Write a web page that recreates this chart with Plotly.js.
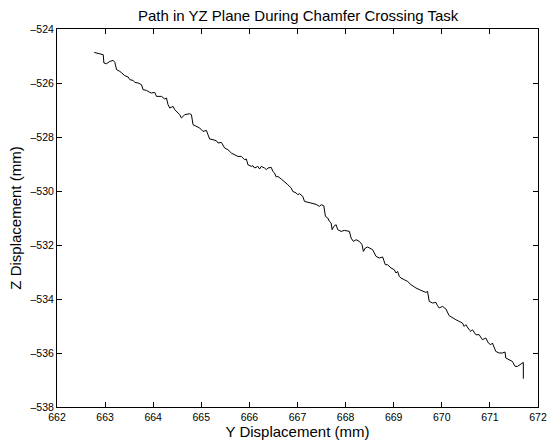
<!DOCTYPE html>
<html>
<head>
<meta charset="utf-8">
<script src="https://cdn.plot.ly/plotly-3.0.1.min.js"></script>
<style>html,body{margin:0;padding:0;background:#fff;}#chart{width:547px;height:441px;}</style>
</head>
<body>
<div id="chart"></div>
<script>
// Y displacement (mm)
var yDisp = [
662.774,662.892,662.961,662.975,663.031,663.100,663.168,663.203,663.239,663.307,
663.342,663.411,663.479,663.515,663.583,663.618,663.687,663.757,663.790,663.861,
663.929,663.965,664.033,664.068,664.172,664.241,664.276,664.309,664.344,664.413,
664.448,664.552,664.587,664.656,664.759,664.795,664.828,664.898,664.967,665.035,
665.106,665.139,665.174,665.243,665.313,665.347,665.417,665.485,665.554,665.624,
665.693,665.761,665.832,665.900,665.936,665.969,666.039,666.073,666.108,666.176,
666.212,666.247,666.315,666.351,666.384,666.454,666.488,666.523,666.558,666.591,
666.662,666.730,666.799,666.869,666.902,666.973,667.006,667.041,667.110,667.145,
667.249,667.318,667.388,667.456,667.492,667.546,667.581,667.629,667.664,667.699,
667.720,667.753,667.803,667.836,667.907,667.975,668.079,668.114,668.162,668.218,
668.286,668.342,668.369,668.411,668.459,668.562,668.633,668.701,668.770,668.826,
668.873,668.944,669.012,669.048,669.081,669.116,669.151,669.220,669.288,669.359,
669.463,669.566,669.670,669.703,669.739,669.807,669.878,669.911,669.946,670.015,
670.085,670.154,670.222,670.293,670.361,670.429,670.465,670.500,670.568,670.604,
670.637,670.707,670.776,670.811,670.844,670.915,670.969,671.019,671.052,671.122,
671.191,671.260,671.315,671.330,671.398,671.467,671.523,671.571,671.627,671.695,
671.695
];
// Z displacement (mm)
var zDisp = [
-524.867,-524.915,-524.952,-525.259,-525.285,-525.200,-525.163,-525.237,-525.507,-525.570,
-525.630,-525.730,-525.778,-525.878,-525.904,-525.978,-526.000,-526.063,-526.248,-526.274,
-526.348,-526.370,-526.348,-526.496,-526.496,-526.593,-526.556,-526.804,-526.926,-526.867,
-526.989,-527.174,-527.296,-527.174,-527.137,-527.174,-527.544,-527.607,-527.667,-527.793,
-527.756,-527.915,-528.074,-528.100,-528.137,-528.222,-528.200,-528.407,-528.470,-528.593,
-528.656,-528.719,-528.719,-528.841,-528.815,-529.026,-529.089,-529.063,-529.148,-529.089,
-529.185,-529.089,-529.148,-529.211,-529.148,-529.126,-529.274,-529.333,-529.481,-529.459,
-529.556,-529.644,-529.767,-529.889,-530.015,-530.074,-530.137,-530.100,-530.200,-530.385,
-530.444,-530.481,-530.496,-530.570,-530.507,-530.544,-530.941,-531.000,-531.126,-531.185,
-531.433,-531.311,-531.248,-531.433,-531.496,-531.459,-531.496,-531.741,-531.867,-531.804,
-531.867,-531.989,-532.237,-532.111,-532.074,-532.174,-532.422,-532.481,-532.444,-532.730,
-532.730,-532.852,-532.915,-533.037,-532.978,-533.163,-533.222,-533.285,-533.348,-533.470,
-533.593,-533.681,-533.756,-533.719,-534.089,-534.148,-534.126,-534.248,-534.333,-534.274,
-534.370,-534.619,-534.704,-534.767,-534.830,-534.889,-535.015,-534.952,-535.137,-535.200,
-535.137,-535.322,-535.322,-535.444,-535.507,-535.444,-535.630,-535.693,-535.630,-535.941,
-536.000,-536.000,-535.963,-536.185,-536.248,-536.311,-536.496,-536.496,-536.433,-536.348,
-536.950
];
var xTicks = [662,663,664,665,666,667,668,669,670,671,672];
var yTicks = [-538,-536,-534,-532,-530,-528,-526,-524];
var titleText = "Path in YZ Plane During Chamfer Crossing Task";
var xLabel = "Y Displacement (mm)";
var yLabel = "Z Displacement (mm)";

var font = "Liberation Sans, Arial, Helvetica, sans-serif";
var axisCommon = {
  showgrid: false, zeroline: false, showline: true, linecolor: "#000", linewidth: 1,
  mirror: "allticks", ticks: "inside", ticklen: 5, tickwidth: 1, tickcolor: "#000",
  tickfont: {family: font, size: 10.5, color: "#000"}, tickmode: "array",
  ticklabeloverflow: "allow"
};
var layout = {
  width: 547, height: 441,
  margin: {l: 57, r: 9, t: 29, b: 34, pad: 0},
  paper_bgcolor: "#fff", plot_bgcolor: "#fff",
  showlegend: false,
  title: {text: titleText, font: {family: font, size: 15, color: "#000"}, x: 0.545, xanchor: "center", y: 0.964, yanchor: "middle"},
  xaxis: Object.assign({}, axisCommon, {
    range: [662, 672], tickvals: xTicks, ticktext: xTicks.map(String),
    title: {text: xLabel, font: {family: font, size: 15, color: "#000"}, standoff: 1}
  }),
  yaxis: Object.assign({}, axisCommon, {
    range: [-538, -524], tickvals: yTicks, ticktext: yTicks.map(function(v){return "\u2013" + Math.abs(v);}),
    title: {text: yLabel, font: {family: font, size: 15, color: "#000"}, standoff: 5}
  })
};
var trace = {x: yDisp, y: zDisp, type: "scatter", mode: "lines", line: {color: "#000", width: 1}, hoverinfo: "none"};
Plotly.newPlot("chart", [trace], layout, {displayModeBar: false, staticPlot: true});
</script>
</body>
</html>
